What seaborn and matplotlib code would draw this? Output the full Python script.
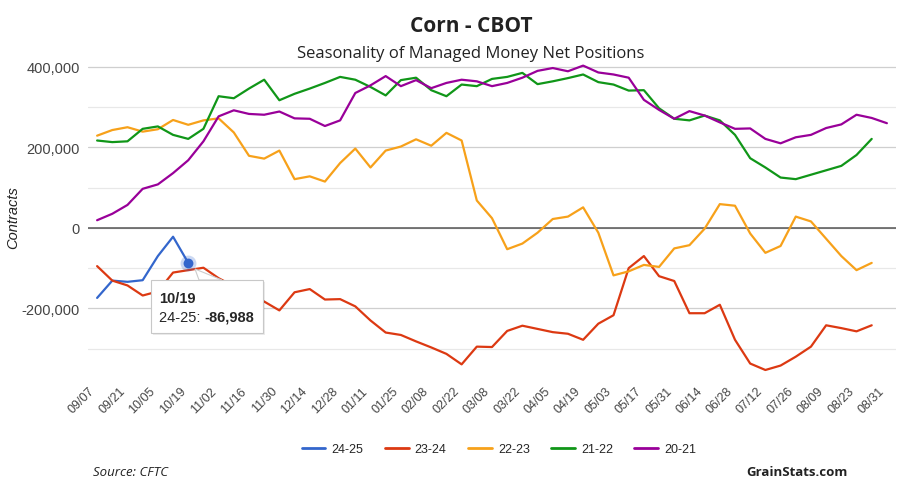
import numpy as np
import pandas as pd
import matplotlib.pyplot as plt
import seaborn as sns
from matplotlib.lines import Line2D
from matplotlib.patches import Rectangle, Polygon

# ─── Data (weekly, thousands of contracts) ────────────────────────────────────
weeks = [
    '09/07', '09/14', '09/21', '09/28', '10/05', '10/12', '10/19', '10/26',
    '11/02', '11/09', '11/16', '11/23', '11/30', '12/07', '12/14', '12/21',
    '12/28', '01/04', '01/11', '01/18', '01/25', '02/01', '02/08', '02/15',
    '02/22', '03/01', '03/08', '03/15', '03/22', '03/29', '04/05', '04/12',
    '04/19', '04/26', '05/03', '05/10', '05/17', '05/24', '05/31', '06/07',
    '06/14', '06/21', '06/28', '07/05', '07/12', '07/19', '07/26', '08/02',
    '08/09', '08/16', '08/23', '08/30', '08/31',
]

s_24_25 = [-174000, -131000, -134000, -130000, -70000, -22000, -86988]

s_23_24 = [-95, -131, -143, -168, -158, -111, -105, -99, -125, -145, -165, -183,
           -205, -160, -152, -178, -177, -195, -230, -260, -266, -282, -297, -313,
           -339, -295, -296, -256, -243, -251, -259, -263, -278, -238, -217, -100,
           -70, -120, -132, -212, -212, -191, -278, -337, -353, -342, -320, -295,
           -242, -249, -257, -242]

s_22_23 = [229, 243, 250, 239, 245, 268, 256, 267, 272, 237, 179, 172,
           192, 121, 128, 115, 161, 197, 150, 192, 202, 220, 204, 236,
           217, 68, 24, -53, -39, -12, 22, 28, 51, -12, -118, -108,
           -92, -97, -51, -43, -2, 59, 55, -14, -62, -45, 28, 16,
           -27, -70, -105, -87]

s_21_22 = [217, 213, 215, 246, 252, 231, 221, 246, 327, 322, 346, 368,
           317, 333, 346, 360, 375, 368, 350, 329, 367, 373, 342, 327,
           356, 352, 370, 375, 385, 357, 364, 372, 381, 362, 356, 341,
           342, 297, 271, 267, 279, 267, 231, 173, 150, 125, 121, 132,
           143, 154, 181, 221]

s_20_21 = [19, 35, 57, 97, 108, 136, 168, 215, 277, 292, 283, 281,
           289, 272, 271, 253, 267, 335, 354, 377, 352, 367, 347, 360,
           368, 364, 352, 360, 373, 390, 397, 389, 403, 386, 381, 373,
           318, 293, 271, 290, 279, 262, 246, 247, 221, 210, 225, 231,
           248, 257, 281, 273, 260]

seasons = ['24-25', '23-24', '22-23', '21-22', '20-21']
colors  = ['#3366cc', '#dc3912', '#f7a11a', '#109618', '#990099']

series = {
    '24-25': s_24_25,
    '23-24': [v * 1000 for v in s_23_24],
    '22-23': [v * 1000 for v in s_22_23],
    '21-22': [v * 1000 for v in s_21_22],
    '20-21': [v * 1000 for v in s_20_21],
}

rows = []
for name, vals in series.items():
    for i, v in enumerate(vals):
        rows.append({'week': i, 'contracts': v, 'season': name})
df = pd.DataFrame(rows)

# ─── Figure ───────────────────────────────────────────────────────────────────
sns.set_style('white')
plt.rcParams['font.family'] = ['Liberation Sans', 'DejaVu Sans']

W, H = 901, 485
fig = plt.figure(figsize=(W / 100, H / 100), dpi=100)
ax = fig.add_axes([88 / W, 1 - 373 / H, 808 / W, 310 / H])

def fx(px):
    return px / W

def fy(py):
    return 1 - py / H

ax.set_ylim(-358000, 412000)
ax.set_xlim(-0.6, len(weeks) - 1 + 0.6)

ax.set_yticks([-200000, 0, 200000, 400000])
ax.set_yticks([-300000, -100000, 100000, 300000], minor=True)
ax.set_yticklabels([f'{v:,}' for v in [-200000, 0, 200000, 400000]])
ax.grid(axis='y', which='major', color='#cfcfcf', lw=0.9, zorder=0)
ax.grid(axis='y', which='minor', color='#e8e8e8', lw=0.9, zorder=0)
ax.axhline(0, color='#555555', lw=1.1, zorder=1)

sns.lineplot(data=df, x='week', y='contracts', hue='season',
             hue_order=seasons, palette=colors, estimator=None,
             sort=False, linewidth=1.6, legend=False, ax=ax, zorder=3)

# highlighted point (last 24-25 value)
last_i = len(s_24_25) - 1
ax.scatter([last_i], [s_24_25[-1]], s=130, color='#3366cc', alpha=0.25,
           linewidths=0, zorder=4)
ax.scatter([last_i], [s_24_25[-1]], s=50, color='#3366cc', zorder=5,
           linewidths=0)

ax.set_xticks(range(0, len(weeks), 2))
ax.set_xticklabels(weeks[::2])
plt.setp(ax.get_xticklabels(), rotation=45, ha='right')
ax.tick_params(axis='x', length=0, pad=9, labelsize=9, labelcolor='#444444')
ax.tick_params(axis='y', which='both', length=0, pad=6, labelsize=10.5,
               labelcolor='#444444')
ax.set_xlabel('')
ax.set_ylabel('')
for sp in ax.spines.values():
    sp.set_visible(False)

# ─── Titles and footer ────────────────────────────────────────────────────────
fig.text(fx(471), fy(26), 'Corn - CBOT', ha='center', va='center',
         fontsize=15, fontweight='bold', family='Open Sans', color='#222222')
fig.text(fx(471), fy(54), 'Seasonality of Managed Money Net Positions',
         ha='center', va='center', fontsize=12, family='Open Sans',
         color='#222222')
fig.text(fx(13), fy(218), 'Contracts', rotation=90, ha='center', va='center',
         fontsize=10.5, style='italic', color='#222222')
fig.text(fx(93), fy(473), 'Source: CFTC', ha='left', va='center',
         fontsize=9.5, style='italic', family='Open Sans', color='#222222')
fig.text(fx(848), fy(473), 'GrainStats.com', ha='right', va='center',
         fontsize=9.5, fontweight='bold', family='Open Sans', color='#222222')

handles = [Line2D([], [], color=c, lw=2) for c in colors]
fig.legend(handles, seasons, loc='center', bbox_to_anchor=(fx(499), fy(450)),
           ncol=5, frameon=False, fontsize=9, handlelength=1.9,
           handletextpad=0.5, columnspacing=1.7)

# ─── Tooltip ──────────────────────────────────────────────────────────────────
fig.patches.append(Rectangle((fx(153), fy(336)), 112 / W, 53 / H,
                             transform=fig.transFigure, fc='#000000',
                             alpha=0.08, ec='none', zorder=9))
fig.patches.append(Polygon([(fx(199), fy(281)), (fx(222), fy(281)),
                            (fx(195), fy(270))], closed=True,
                           transform=fig.transFigure, fc='white',
                           ec='#cccccc', lw=0.8, zorder=9))
fig.patches.append(Rectangle((fx(151), fy(334)), 112 / W, 53 / H,
                             transform=fig.transFigure, fc='white',
                             ec='#c8c8c8', lw=0.8, zorder=10))
fig.text(fx(159), fy(299), weeks[last_i], ha='left', va='center',
         fontsize=10.5, fontweight='bold', zorder=11)
t1 = fig.text(fx(159), fy(318), '24-25: ', ha='left', va='center',
              fontsize=10.5, zorder=11)
renderer = fig.canvas.get_renderer()
bb = t1.get_window_extent(renderer=renderer)
fig.text(bb.x1 / fig.bbox.width, fy(318), f'{s_24_25[-1]:,}', ha='left',
         va='center', fontsize=10.5, fontweight='bold', zorder=11)

fig.savefig('out.png', dpi=100)
